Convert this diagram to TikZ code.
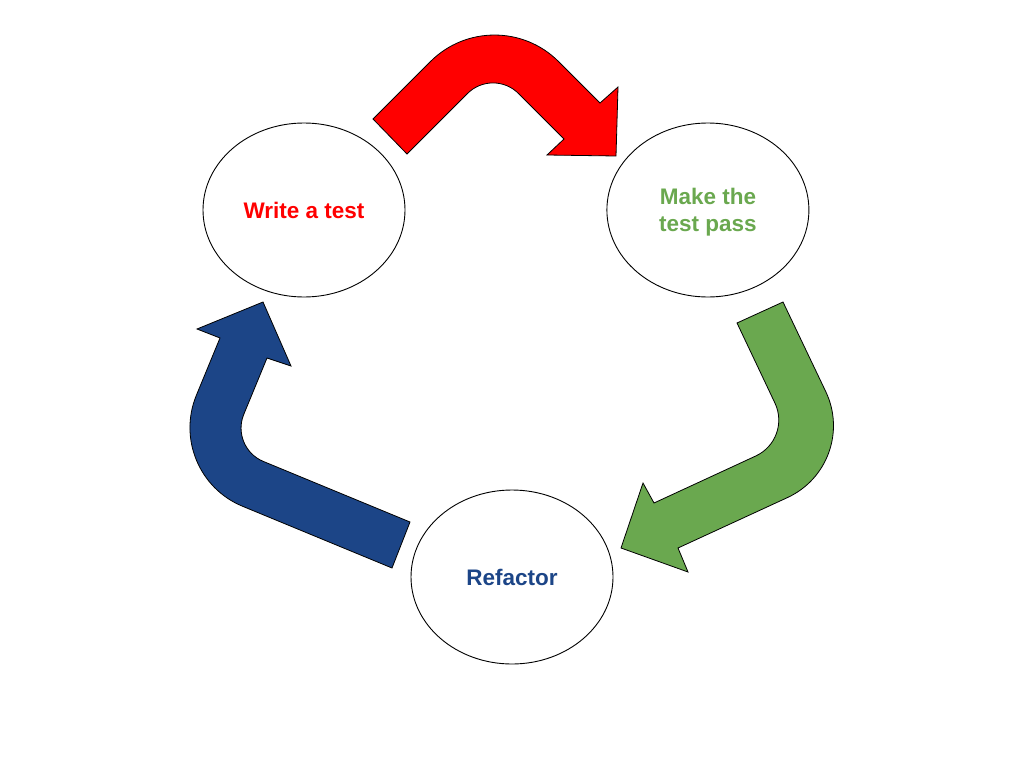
\documentclass[tikz,border=0pt]{standalone}
\usepackage{fontspec}
\setmainfont{Liberation Sans}
\usetikzlibrary{shapes.geometric, positioning}
\definecolor{tddred}{HTML}{FF0000}
\definecolor{tddgreen}{HTML}{6AA84F}
\definecolor{tddblue}{HTML}{1C4587}
\tikzstyle{stage} = [draw, ellipse, line width=0.9pt, minimum width=202pt, minimum height=174pt, inner sep=0pt, align=center, font=\fontsize{22.5}{27}\selectfont\bfseries]
\tikzstyle{bigarrow} = [draw=black, line width=0.8pt]

\begin{document}
\begin{tikzpicture}[x=1pt, y=-1pt]
    \useasboundingbox (0,0) rectangle (1024,768);

    % The three stages
    \node[stage, text=tddred] (write) at (304,210) {Write a test};
    \node[stage, text=tddgreen, text depth=0pt, right=201pt of write] (pass) {Make the\\test pass};
    \node[stage, text=tddblue] (refactor) at (512,577) {Refactor};

    % Red arrow (write -> pass)
    \draw[bigarrow, fill=tddred] (373,119) -- (430.5,61.5)
        .. controls (465.8,26.2) and (523.2,26.2) .. (558.5,61.5)
        -- (600,103) -- (618,87) -- (616,156) -- (547,155) -- (564,139)
        -- (518.5,93.5) .. controls (504.4,79.4) and (481.6,79.4) .. (467.5,93.5)
        -- (407,154) -- cycle;

    % Green arrow (pass -> refactor)
    \draw[bigarrow, fill=tddgreen] (783,302) -- (825.8,391.7)
        .. controls (844.7,431.6) and (827.5,479.1) .. (787.4,497.6)
        -- (678,548) -- (688,572) -- (621,548) -- (643,483) -- (654,503)
        -- (755.7,456) .. controls (775.8,446.7) and (784.4,423) .. (774.9,403)
        -- (737,323) -- cycle;

    % Blue arrow (refactor -> write)
    \draw[bigarrow, fill=tddblue] (392,568) -- (242.4,506.2)
        .. controls (199.1,488.3) and (178.5,438.5) .. (196.4,395.2)
        -- (220,338) -- (197,329) -- (263,302) -- (291,366) -- (267,358)
        -- (243.8,414.3) .. controls (236.2,432.7) and (244.9,453.8) .. (263.3,461.4)
        -- (410,522) -- cycle;
\end{tikzpicture}
\end{document}
